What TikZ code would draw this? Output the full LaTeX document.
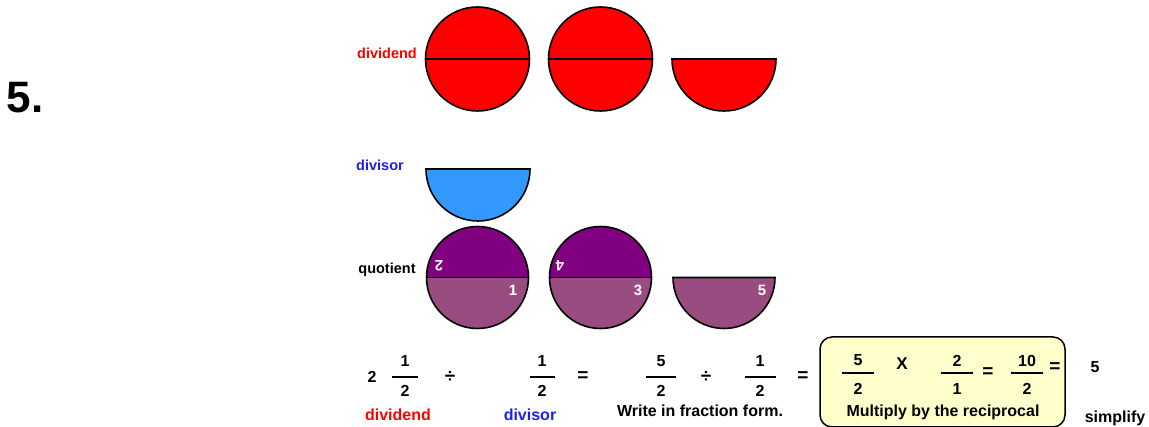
\documentclass[tikz,border=0pt]{standalone}
\usepackage{fontspec}
\setmainfont{Liberation Sans}
\usepackage{xcolor}
\usepackage{tikz}
\usetikzlibrary{positioning}
\definecolor{dividendred}{HTML}{FF0000}
\definecolor{divisorfill}{HTML}{3399FF}
\definecolor{divisortext}{HTML}{1F1FF0}
\definecolor{quotdark}{HTML}{800080}
\definecolor{quotlight}{HTML}{994C7F}
\definecolor{boxfill}{HTML}{FFFFCC}

\begin{document}
\begin{tikzpicture}[
    x=1pt, y=1pt,
    piece/.style={draw=black, line width=1.6pt},
    toplabel/.style={font=\fontsize{14.5}{16}\selectfont\bfseries, anchor=base, inner sep=0pt},
    eqtext/.style={font=\fontsize{16}{18}\selectfont\bfseries, inner sep=0pt},
    eqsign/.style={font=\fontsize{19}{21}\selectfont\bfseries, inner sep=0pt},
    eqlabel/.style={font=\fontsize{16}{18}\selectfont\bfseries, anchor=base, inner sep=0pt},
    count/.style={font=\fontsize{15}{17}\selectfont\bfseries, text=white, inner sep=0pt},
    bar/.style={line width=2pt},
    recipbox/.style={draw=black, line width=1.5pt, fill=boxfill, rounded corners=12pt}
]
\useasboundingbox (0,0) rectangle (1149,427);

\node[font=\fontsize{44}{48}\selectfont\bfseries, anchor=base, inner sep=0pt] (problem) at (25,314) {5.};

\foreach \cx in {477.5,600.5} {
  \fill[dividendred] (\cx,368) circle[radius=52];
  \draw[piece] (\cx,368) circle[radius=52];
  \draw[piece] (\cx-52,368) -- (\cx+52,368);
}
\draw[piece, fill=dividendred] (672,368) arc[start angle=180, end angle=360, radius=52] -- cycle;
\node[toplabel, text=dividendred] (dividendtop) at (387,368) {dividend};

\draw[piece, fill=divisorfill] (426,258) arc[start angle=180, end angle=360, radius=52] -- cycle;
\node[toplabel, text=divisortext] (divisortop) at (380,256) {divisor};

\foreach \cx in {477.5,600.5} {
  \fill[quotdark] (\cx-51,149.5) arc[start angle=180, end angle=0, radius=51] -- cycle;
  \fill[quotlight] (\cx-51,149.5) arc[start angle=180, end angle=360, radius=51] -- cycle;
  \draw[piece] (\cx,149.5) circle[radius=51];
  \draw[piece] (\cx-51,149.5) -- (\cx+51,149.5);
}
\draw[piece, fill=quotlight] (673,149.5) arc[start angle=180, end angle=360, radius=51] -- cycle;
\node[toplabel] (quotient) at (387,153) {quotient};

\node[count, rotate=180] (countb) at (439,161.5) {2};
\node[count, rotate=180] (countd) at (560,161.5) {4};
\node[count] (counta) at (513,136.5) {1};
\node[count] (countc) at (638,136.5) {3};
\node[count] (counte) at (762,136.5) {5};

\draw[recipbox] (820,0) rectangle (1065,90);

\node[eqtext] (whole) at (372,50) {2};
\foreach \fx/\fn/\fd/\ny/\by/\dy/\fw [count=\i] in {
    405/1/2/66/50/36.5/13, 542/1/2/66/50/36.5/12.5, 661/5/2/66/50/36.5/15,
    760/1/2/66/50/36.5/15.5, 858/5/2/66.5/54/38/16, 957/2/1/66.5/54/38/16,
    1027/10/2/66.5/54/38/16} {
  \node[eqtext] (num\i) at (\fx,\ny) {\fn};
  \node[eqtext] (den\i) at (\fx,\dy) {\fd};
  \draw[bar] (\fx-\fw,\by) -- (\fx+\fw,\by);
}
\node[eqsign] (div1) at (450,50) {÷};
\node[eqsign] (eq1) at (583,50) {=};
\node[eqsign] (div2) at (706,50) {÷};
\node[eqsign] (eq2) at (803,50) {=};
\node[eqtext, font=\fontsize{17}{19}\selectfont\bfseries] (times) at (902,63.5) {X};
\node[eqsign] (eq3) at (988,54) {=};
\node[eqsign] (eq4) at (1055,59) {=};
\node[eqtext] (answer) at (1095,60) {5};

\node[eqlabel, text=dividendred] (dividendbot) at (398,6) {dividend};
\node[eqlabel, text=divisortext] (divisorbot) at (530,6) {divisor};
\node[eqlabel] (fractionform) at (700,10) {Write in fraction form.};
\node[eqlabel] (reciprocal) at (943,10) {Multiply by the reciprocal};
\node[eqlabel] (simplify) at (1115,4) {simplify};

\end{tikzpicture}
\end{document}
